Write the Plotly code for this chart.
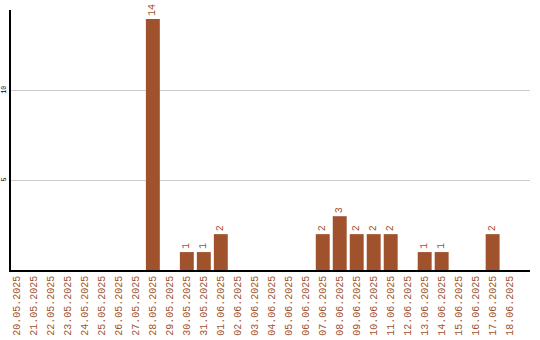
import plotly.graph_objects as go

dates = ["20.05.2025", "21.05.2025", "22.05.2025", "23.05.2025", "24.05.2025", "25.05.2025",
         "26.05.2025", "27.05.2025", "28.05.2025", "29.05.2025", "30.05.2025", "31.05.2025",
         "01.06.2025", "02.06.2025", "03.06.2025", "04.06.2025", "05.06.2025", "06.06.2025",
         "07.06.2025", "08.06.2025", "09.06.2025", "10.06.2025", "11.06.2025", "12.06.2025",
         "13.06.2025", "14.06.2025", "15.06.2025", "16.06.2025", "17.06.2025", "18.06.2025"]
counts = [0, 0, 0, 0, 0, 0, 0, 0, 14, 0, 1, 1, 2, 0, 0, 0, 0, 0,
          2, 3, 2, 2, 2, 0, 1, 1, 0, 0, 2, 0]
y_ticks = [5, 10]

color = "#A0522D"
labels = [str(v) if v else "" for v in counts]

fig = go.Figure(go.Bar(
    x=list(range(len(dates))), y=counts, marker_color=color, marker_line_width=0,
    text=labels, textposition="outside", textangle=-90,
    textfont=dict(family="Liberation Mono", size=10, color=color),
    cliponaxis=False, width=0.82, hoverinfo="skip",
))
fig.update_layout(
    width=540, height=340, margin=dict(l=11, r=10, t=10, b=70),
    paper_bgcolor="white", plot_bgcolor="white", showlegend=False,
    uniformtext=dict(minsize=1, mode="show"),
)
fig.update_xaxes(
    tickmode="array", tickvals=list(range(len(dates))), ticktext=dates,
    tickangle=-90, tickfont=dict(family="Liberation Mono", size=10, color=color),
    range=[-0.35, 30.2], showline=True, linecolor="black", linewidth=1.5,
    showgrid=False, ticks="", zeroline=False, automargin=False,
)
fig.update_yaxes(
    tickmode="array", tickvals=y_ticks, ticktext=[str(t) for t in y_ticks],
    tickangle=-90, tickfont=dict(family="Liberation Mono", size=7, color="black"),
    range=[0, 14.5], showline=True, linecolor="black", linewidth=1.5,
    showgrid=True, gridcolor="#cccccc", gridwidth=1, ticks="", zeroline=False,
    automargin=False,
)
fig.write_html("out.html", config={"displayModeBar": False},
               post_script="document.body.style.margin='0';document.body.style.overflow='hidden';")
